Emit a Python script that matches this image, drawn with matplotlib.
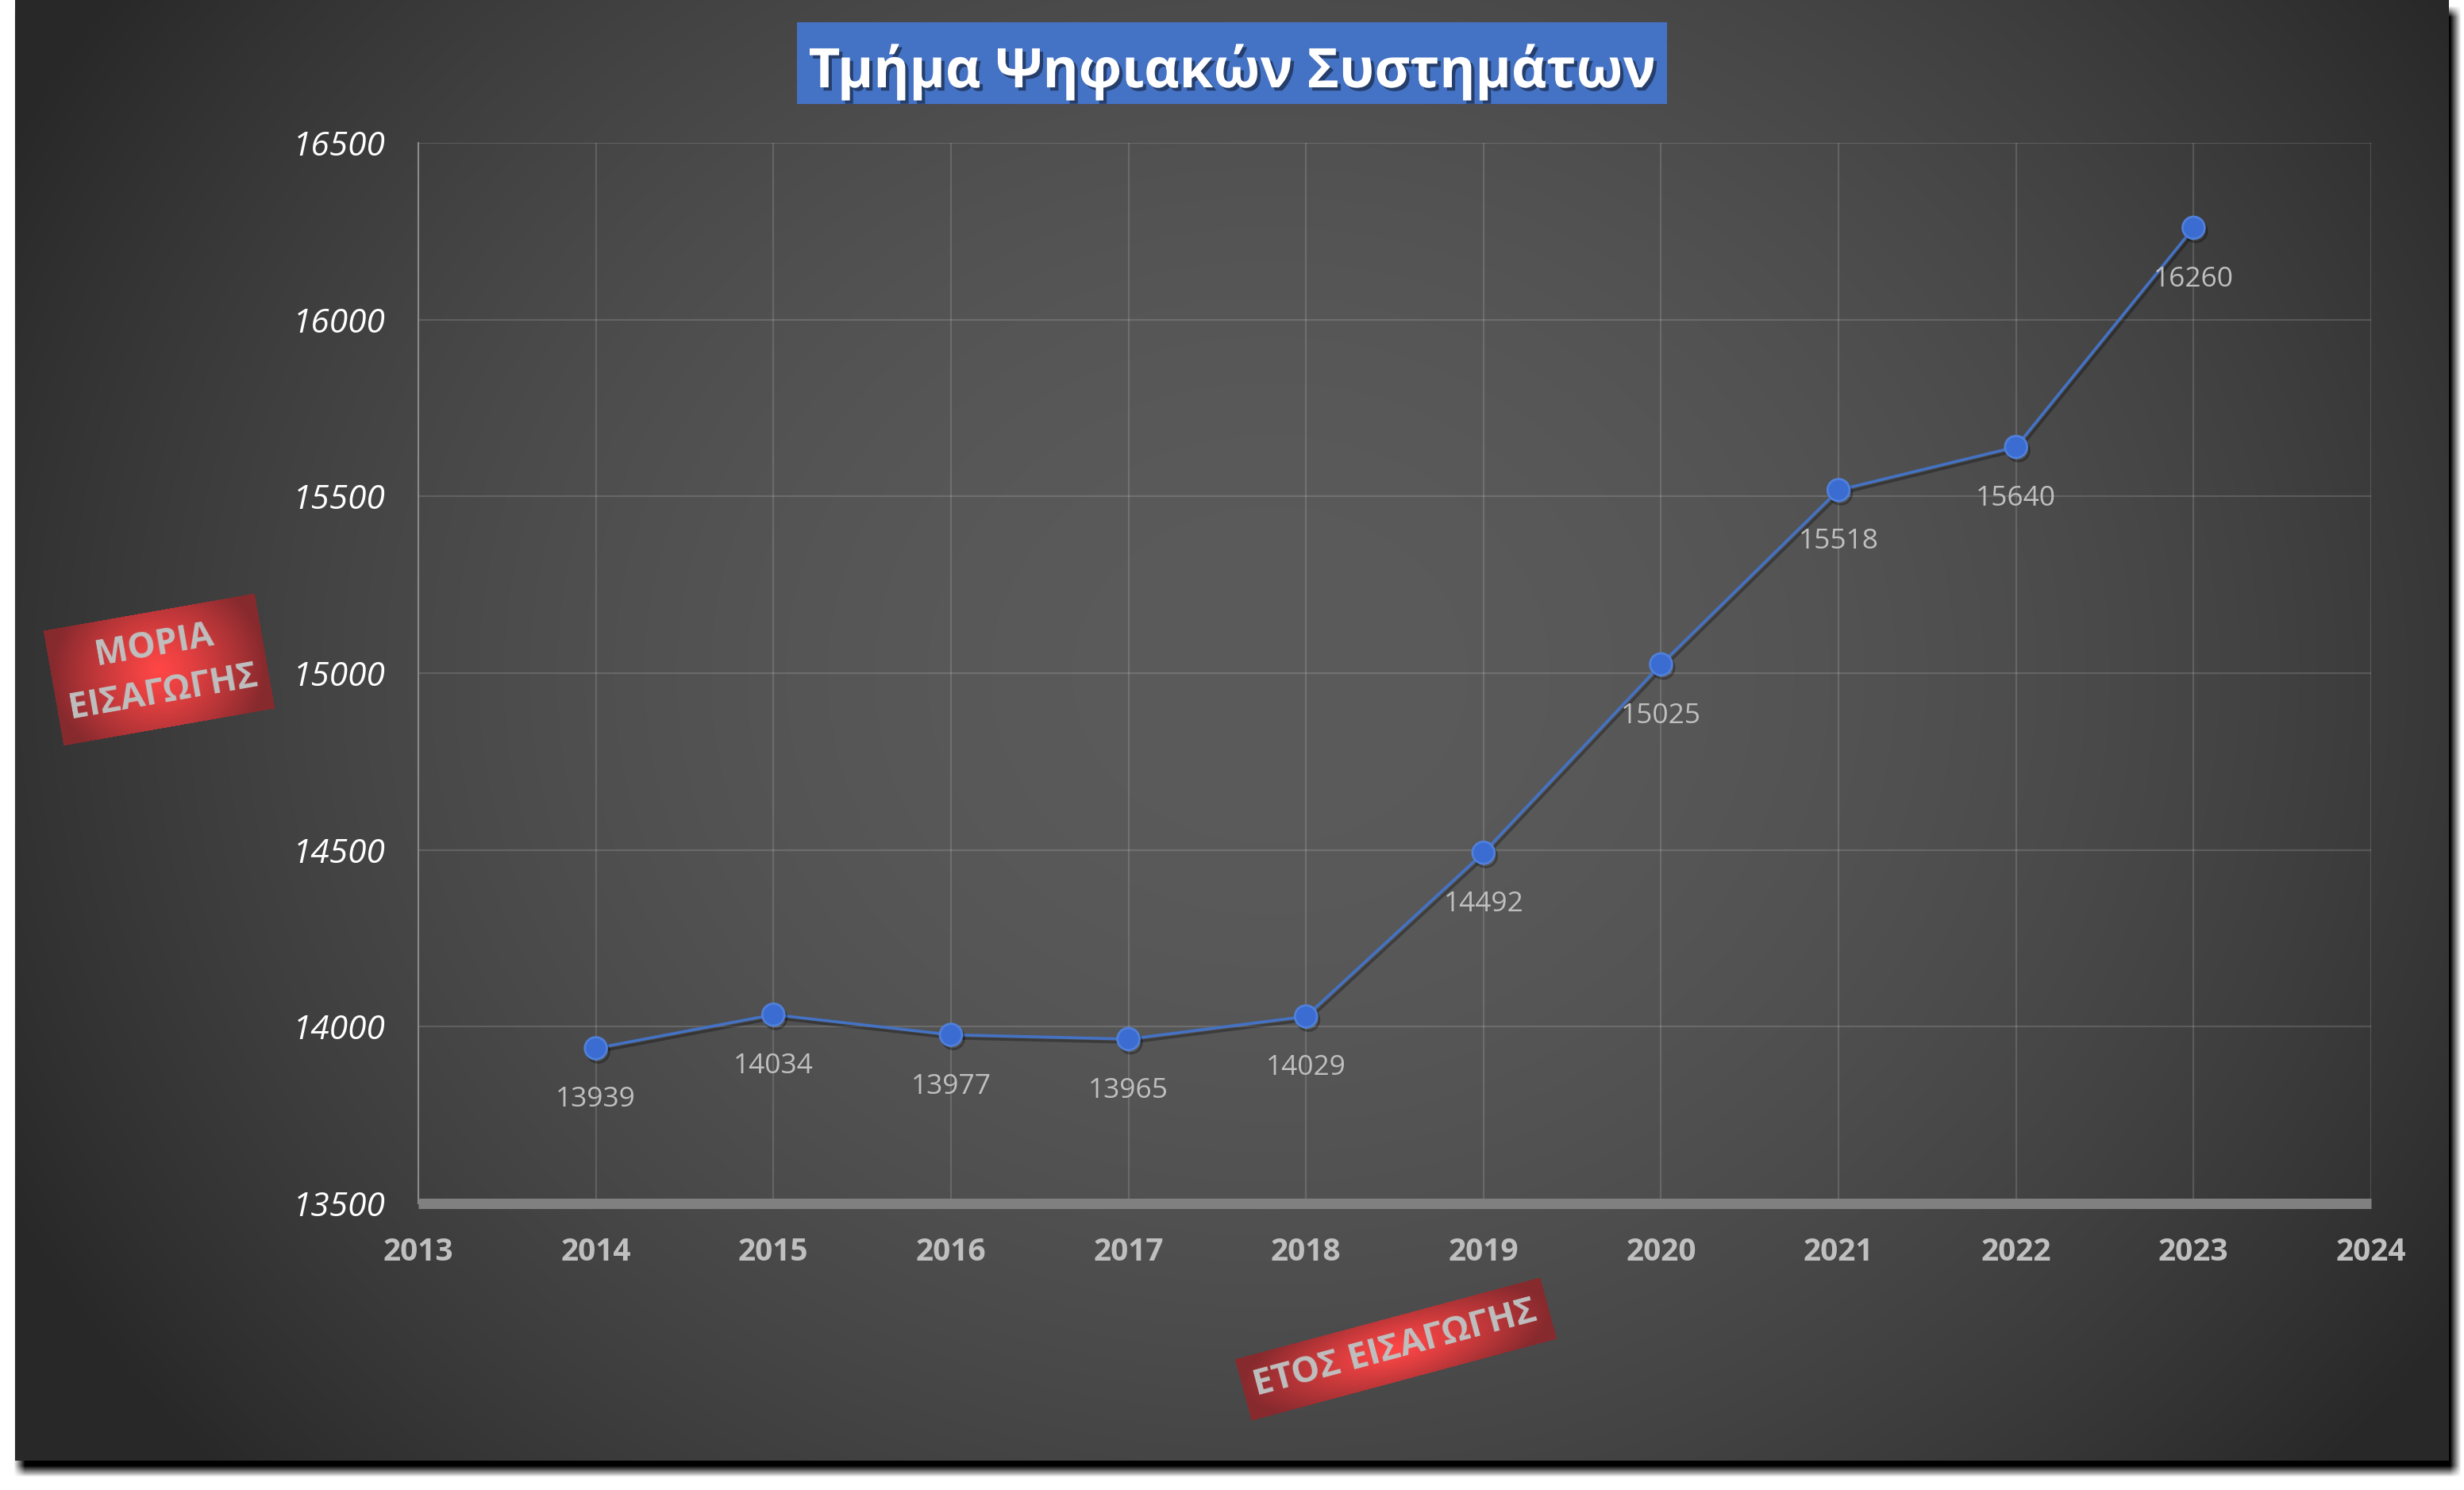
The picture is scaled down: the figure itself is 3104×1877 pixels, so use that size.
import numpy as np
import matplotlib
matplotlib.use("Agg")
import matplotlib.pyplot as plt
from matplotlib import patheffects as pe

# ---------------- data ----------------
years = [2014, 2015, 2016, 2017, 2018, 2019, 2020, 2021, 2022, 2023]
scores = [13939, 14034, 13977, 13965, 14029, 14492, 15025, 15518, 15640, 16260]
x_ticks = list(range(2013, 2025))
y_ticks = [13500, 14000, 14500, 15000, 15500, 16000, 16500]
title_text = "Τμήμα Ψηφιακών Συστημάτων"
y_label_text = "ΜΟΡΙΑ\nΕΙΣΑΓΩΓΗΣ"
x_label_text = "ΕΤΟΣ ΕΙΣΑΓΩΓΗΣ"

FONT = ["Open Sans", "DejaVu Sans"]
plt.rcParams["font.family"] = FONT

W, H, DPI = 3104, 1877, 100
fig = plt.figure(figsize=(W / DPI, H / DPI), dpi=DPI)

# ---------------- background image (panel, shadow, gradient boxes) ----------------
xs = np.arange(W, dtype=np.float32)
ys = np.arange(H, dtype=np.float32)

def ramp(v, a, b, s):
    return np.clip((v - a + s) / (2 * s), 0, 1) * np.clip((b - v + s) / (2 * s), 0, 1)

img = np.ones((H, W, 3), dtype=np.float32)
# drop shadow
sh = ramp(ys, 14, 1853, 7)[:, None] * ramp(xs, 24, 3093, 7)[None, :]
img *= (1 - sh)[:, :, None]

# panel with radial gradient
px0, py0, px1, py1 = 19, 0, 3085, 1840
cx, cy, ra, rb = 1600.0, 850.0, 1780.0, 1520.0
sub_x = xs[px0:px1]
sub_y = ys[py0:py1]
r2 = ((sub_x[None, :] - cx) / ra) ** 2 + ((sub_y[:, None] - cy) / rb) ** 2
val = (91 - 51 * np.clip(r2, 0, 1)) / 255.0
img[py0:py1, px0:px1, :] = val[:, :, None]

# title box
img[28:131, 1004:2100, :] = np.array([68, 114, 196], dtype=np.float32) / 255.0

def red_box(cxb, cyb, wb, hb, ang):
    t = np.deg2rad(ang)
    R = int(np.hypot(wb, hb) / 2) + 3
    x0, x1 = int(cxb - R), int(cxb + R)
    y0, y1 = int(cyb - R), int(cyb + R)
    X = xs[x0:x1][None, :] - cxb
    Y = ys[y0:y1][:, None] - cyb
    u = X * np.cos(t) - Y * np.sin(t)
    v = X * np.sin(t) + Y * np.cos(t)
    inside = (np.abs(u) <= wb / 2) & (np.abs(v) <= hb / 2)
    r = np.clip(np.sqrt((u / (wb / 2)) ** 2 + 0.35 * (v / (hb / 2)) ** 2), 0, 1) ** 1.2
    bright = np.array([255, 70, 70], dtype=np.float32) / 255.0
    dark = np.array([135, 42, 46], dtype=np.float32) / 255.0
    col = bright[None, None, :] + (dark - bright)[None, None, :] * r[:, :, None]
    region = img[y0:y1, x0:x1, :]
    region[inside] = col[inside]

red_box(200, 843, 270, 147, 10)
red_box(1758, 1699, 398, 80, 15)

fig.figimage((img * 255).astype(np.uint8), 0, 0, origin="upper", zorder=-10)

# ---------------- axes ----------------
ax = fig.add_axes([527 / W, 1 - 1516 / H, 2460 / W, 1336 / H])
ax.set_zorder(1)
ax.patch.set_alpha(0)
ax.set_xlim(2013, 2024)
ax.set_ylim(13500, 16500)
ax.set_xticks(x_ticks)
ax.set_yticks(y_ticks)
ax.set_xticklabels([str(v) for v in x_ticks])
ax.set_yticklabels([str(v) for v in y_ticks])

ax.grid(True, color="white", alpha=0.14, lw=1.6, zorder=1)
ax.set_axisbelow(True)
for s in ("top", "right"):
    ax.spines[s].set_visible(False)
ax.spines["bottom"].set_color("#808080")
ax.spines["bottom"].set_linewidth(9.4)
ax.spines["bottom"].set_capstyle("butt")
ax.spines["left"].set_color("#8a8a8a")
ax.spines["left"].set_linewidth(1.5)

ax.tick_params(axis="both", length=0)
ax.tick_params(axis="y", pad=30, labelsize=30.5, labelcolor="white")
ax.tick_params(axis="x", pad=52, labelsize=28, labelcolor="#bfbfbf")
for t in ax.get_yticklabels():
    t.set_fontstyle("italic")
for t in ax.get_xticklabels():
    t.set_fontweight("bold")
    t.set_va("baseline")

ax.plot(years, scores, color="#4472C4", lw=2.6, marker="o", ms=20,
        mfc="#3b6cd1", mec="#5080da", mew=2, zorder=3, clip_on=False,
        path_effects=[pe.SimpleLineShadow(offset=(2, -3), shadow_color="black", alpha=0.3),
                      pe.Normal()])

for x, y in zip(years, scores):
    ax.annotate(f"{y}", (x, y), xytext=(0, -74), textcoords="offset pixels",
                ha="center", va="baseline", color="#bfbfbf", fontsize=25.5, zorder=4)

# ---------------- titles / labels ----------------
fig.text(1552 / W, 1 - 110 / H, title_text, ha="center", va="baseline",
         fontsize=49.5, fontweight="bold", color="white",
         path_effects=[pe.withSimplePatchShadow(offset=(3, -3), shadow_rgbFace="black", alpha=0.45)])

fig.text(200 / W, 1 - 843 / H, y_label_text, ha="center", va="center",
         rotation=10, rotation_mode="anchor", multialignment="center",
         linespacing=1.45, fontsize=32, fontweight="bold", color="#bfbfbf")

fig.text(1758 / W, 1 - 1699 / H, x_label_text, ha="center", va="center",
         rotation=15, rotation_mode="anchor",
         fontsize=32.5, fontweight="bold", color="#bfbfbf")

fig.savefig("out.png", dpi=DPI)
